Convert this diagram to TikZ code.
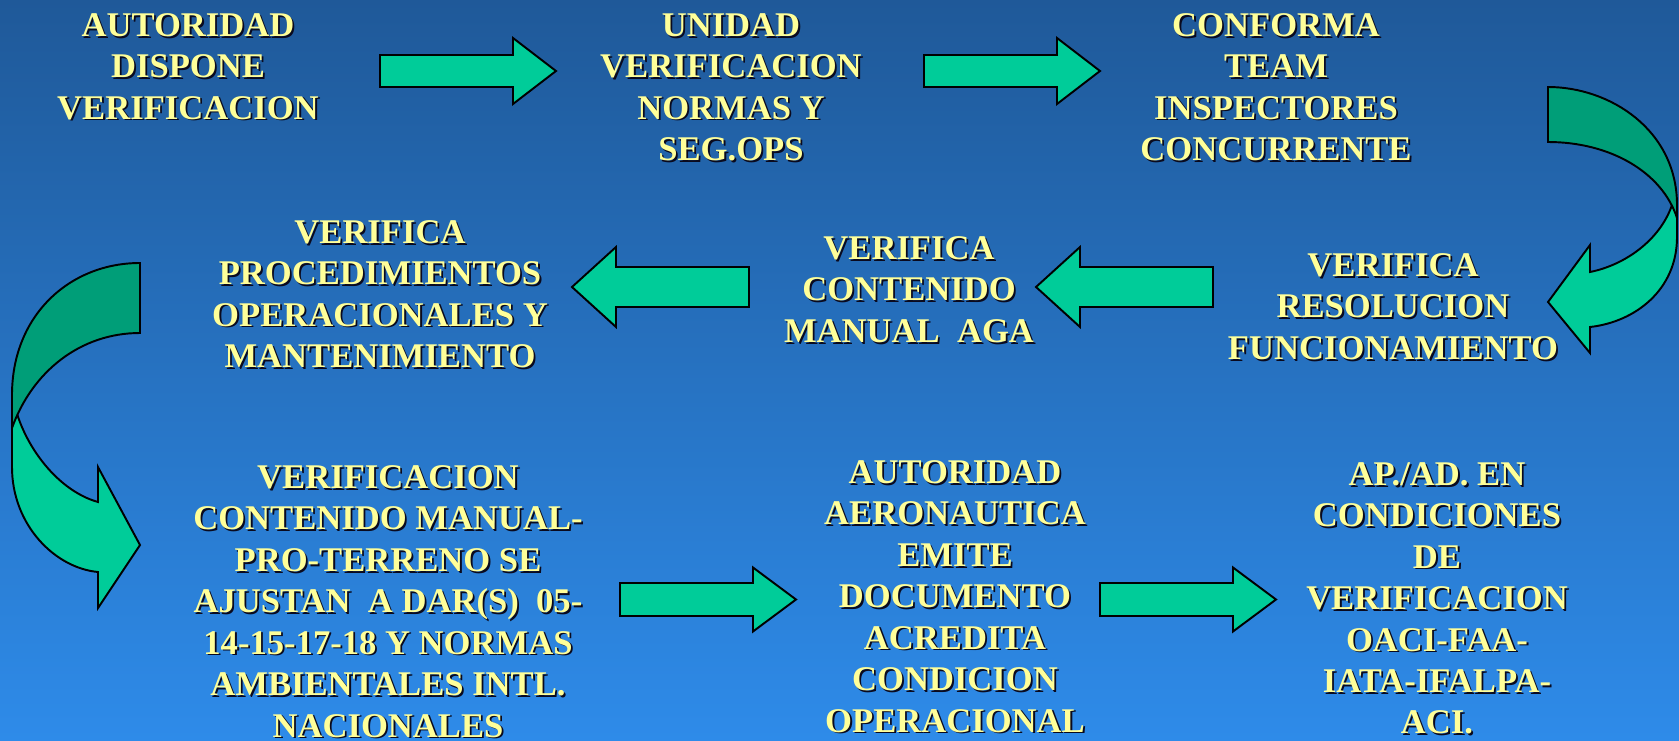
\documentclass[tikz,border=0pt]{standalone}
\usepackage{fontspec}
\setmainfont{Liberation Serif}
\definecolor{bgtop}{RGB}{31,89,153}
\definecolor{bgbot}{RGB}{46,139,233}
\definecolor{agreen}{RGB}{0,204,153}
\definecolor{dgreen}{RGB}{0,158,120}
\definecolor{ytext}{RGB}{255,255,153}
\definecolor{tshadow}{RGB}{10,10,30}
\tikzset{
  lbl/.style={font=\fontsize{19.7pt}{23.6pt}\selectfont\bfseries, align=center, inner sep=0pt, anchor=north, text=ytext},
  lblshadow/.style={lbl, text=tshadow},
  barrow/.style={draw=black, fill=agreen, line width=1.1pt, line join=miter},
  darrow/.style={draw=black, fill=dgreen, line width=1.1pt},
}
\newcommand\shadowtext[4]{%
  \node[lblshadow] (#1s) at (#2+1.8,#3+1.8) {#4};
  \node[lbl] (#1) at (#2,#3) {#4};}
% right block arrow: x-left, x-head-base, x-tip, y-center, body half, head half
\newcommand\arrowR[6]{\draw[barrow] (#1,#4-#5) -- (#2,#4-#5) -- (#2,#4-#6) -- (#3,#4) -- (#2,#4+#6) -- (#2,#4+#5) -- (#1,#4+#5) -- cycle;}
% left block arrow: x-tip, x-head-base, x-right, y-center, body half, head half
\newcommand\arrowL[6]{\draw[barrow] (#3,#4-#5) -- (#2,#4-#5) -- (#2,#4-#6) -- (#1,#4) -- (#2,#4+#6) -- (#2,#4+#5) -- (#3,#4+#5) -- cycle;}
\begin{document}
\begin{tikzpicture}[x=0.02cm, y=-0.02cm]
\useasboundingbox (0,0) rectangle (1679,740);
\shade[top color=bgtop, bottom color=bgbot] (0,0) rectangle (1679,740);

% texts
\shadowtext{n1}{188}{13}{AUTORIDAD\\DISPONE\\VERIFICACION}
\shadowtext{n2}{731}{13}{UNIDAD\\VERIFICACION\\NORMAS Y\\SEG.OPS}
\shadowtext{n3}{1276}{13}{CONFORMA\\TEAM\\INSPECTORES\\CONCURRENTE}
\shadowtext{n4}{1393}{253}{VERIFICA\\RESOLUCION\\FUNCIONAMIENTO}
\shadowtext{n5}{909}{236}{VERIFICA\\CONTENIDO\\MANUAL~~AGA}
\shadowtext{n6}{380}{220}{VERIFICA\\PROCEDIMIENTOS\\OPERACIONALES Y\\MANTENIMIENTO}
\shadowtext{n7}{388}{465}{VERIFICACION\\CONTENIDO MANUAL-\\PRO-TERRENO SE\\AJUSTAN~~A DAR(S)~~05-\\14-15-17-18 Y NORMAS\\AMBIENTALES INTL.\\NACIONALES}
\shadowtext{n8}{955}{460}{AUTORIDAD\\AERONAUTICA\\EMITE\\DOCUMENTO\\ACREDITA\\CONDICION\\OPERACIONAL}
\shadowtext{n9}{1437}{462}{AP./AD. EN\\CONDICIONES\\DE\\VERIFICACION\\OACI-FAA-\\IATA-IFALPA-\\ACI.}

% straight block arrows
\arrowR{380}{513}{556}{71}{16}{33}
\arrowR{924}{1057}{1100}{71}{16}{33}
\arrowL{1036}{1080}{1213}{287}{20}{40}
\arrowL{572}{616}{749}{287}{20}{40}
\arrowR{620}{753}{796}{599.5}{16.5}{32}
\arrowR{1100}{1233}{1276}{599.5}{16.5}{32}

% right curved arrow
\draw[barrow] (1677,200) -- (1677,237) .. controls (1677,290) and (1635,322) .. (1590,327)
  -- (1590,353) -- (1548,302) -- (1590,245) -- (1590,272)
  .. controls (1625,265) and (1660,240) .. (1672,205) -- cycle;
\draw[darrow] (1548,87) .. controls (1610,87) and (1677,130) .. (1677,205) -- (1677,218)
  .. controls (1662,172) and (1610,142) .. (1548,142) -- cycle;

% left curved arrow
\draw[barrow] (12,390) -- (12,467) .. controls (12,525) and (55,568) .. (98,572)
  -- (98,608) -- (140,545) -- (98,467) -- (98,502)
  .. controls (55,490) and (20,440) .. (13,397) -- cycle;
\draw[darrow] (140,263) .. controls (70,263) and (12,315) .. (12,395) -- (12,428)
  .. controls (32,372) and (80,333) .. (140,333) -- cycle;
\end{tikzpicture}
\end{document}
